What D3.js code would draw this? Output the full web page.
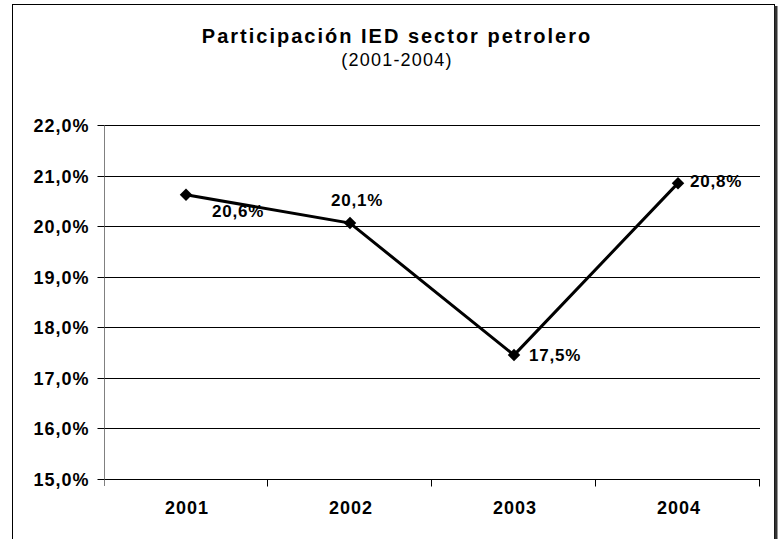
<!DOCTYPE html>
<meta charset="utf-8">
<style>
body { margin: 0; background: #fff; }
text { font-family: "Liberation Sans", Arial, sans-serif; fill: #000; }
.tick text { font-weight: bold; font-size: 18px; letter-spacing: 1px; }
.lbl { font-weight: bold; font-size: 18px; letter-spacing: 1px; }
.val { font-weight: bold; font-size: 17px; letter-spacing: 0.8px; }
</style>
<svg width="783" height="539"></svg>
<script src="https://d3js.org/d3.v7.min.js"></script>
<script>

var years = ["2001", "2002", "2003", "2004"];
var shares = [20.62, 20.06, 17.45, 20.85];
var labels = ["20,6%", "20,1%", "17,5%", "20,8%"];
var yTicks = [15, 16, 17, 18, 19, 20, 21, 22];

var svg = d3.select("svg");
var plotL = 104, plotR = 760, plotT = 125, plotB = 479;

// outer frame, with the heavy right edge
svg.append("rect").attr("x", 12.5).attr("y", 4.5).attr("width", 762).attr("height", 560)
    .attr("fill", "#fff").attr("stroke", "#000");
svg.append("line").attr("x1", 776).attr("x2", 776).attr("y1", 6).attr("y2", 539)
    .attr("stroke", "#333").attr("stroke-width", 3);

svg.append("text").attr("x", 397).attr("y", 43).attr("text-anchor", "middle")
    .style("font-weight", "bold").style("font-size", "20px").style("letter-spacing", "2px")
    .text("Participación IED sector petrolero");
svg.append("text").attr("x", 397).attr("y", 66).attr("text-anchor", "middle")
    .style("font-size", "18px").style("letter-spacing", "1.2px").text("(2001-2004)");

var x = d3.scaleBand().domain(years).range([plotL, plotR]);
var y = d3.scaleLinear().domain([15, 22]).range([plotB, plotT]);

// gridlines
svg.append("g").selectAll("line").data(yTicks).join("line")
    .attr("x1", plotL).attr("x2", plotR)
    .attr("y1", function(d) { return Math.round(y(d)) + 0.5; })
    .attr("y2", function(d) { return Math.round(y(d)) + 0.5; })
    .attr("stroke", "#000");

var yAxis = svg.append("g").attr("transform", "translate(" + (plotL + 0.5) + ",0)")
    .call(d3.axisLeft(y).tickValues(yTicks).tickSize(7).tickPadding(8)
      .tickFormat(function(d) { return d3.format(".1f")(d).replace(".", ",") + "%"; }));
yAxis.select(".domain").attr("stroke", "#808080").attr("d", "M0," + plotT + "V" + (plotB + 7));
yAxis.selectAll(".tick").attr("transform", function(d) { return "translate(0," + (Math.round(y(d)) + 0.5) + ")"; });
yAxis.selectAll(".tick line").attr("stroke", "#000");
yAxis.selectAll(".tick text").attr("dy", "0.36em");

// category ticks below the axis
var xAxis = svg.append("g").attr("transform", "translate(0," + (plotB + 0.5) + ")");
xAxis.selectAll("line").data(years).join("line")
    .attr("x1", function(d, i) { return Math.round(plotL + x.step() * (i + 1)) - 0.5; })
    .attr("x2", function(d, i) { return Math.round(plotL + x.step() * (i + 1)) - 0.5; })
    .attr("y1", 0).attr("y2", 7).attr("stroke", "#000");
xAxis.selectAll("text").data(years).join("text")
    .attr("class", "lbl")
    .attr("x", function(d) { return x(d) + x.bandwidth() / 2 + 1; })
    .attr("y", 34.5).attr("text-anchor", "middle").text(function(d) { return d; });

var pts = years.map(function(d, i) { return [x(d) + x.bandwidth() / 2, y(shares[i])]; });

svg.append("path").datum(pts).attr("d", d3.line())
    .attr("fill", "none").attr("stroke", "#000").attr("stroke-width", 3);

svg.append("g").selectAll("path").data(pts).join("path")
    .attr("transform", function(d) { return "translate(" + d[0] + "," + d[1] + ")"; })
    .attr("d", d3.symbol(d3.symbolDiamond2, 100)).attr("fill", "#000");

var offs = [[52, 22], [7, -17], [41, 6], [38, 4]];
svg.append("g").selectAll("text").data(pts).join("text")
    .attr("class", "val")
    .attr("x", function(d, i) { return d[0] + offs[i][0]; })
    .attr("y", function(d, i) { return d[1] + offs[i][1]; })
    .attr("text-anchor", "middle")
    .text(function(d, i) { return labels[i]; });

</script>
